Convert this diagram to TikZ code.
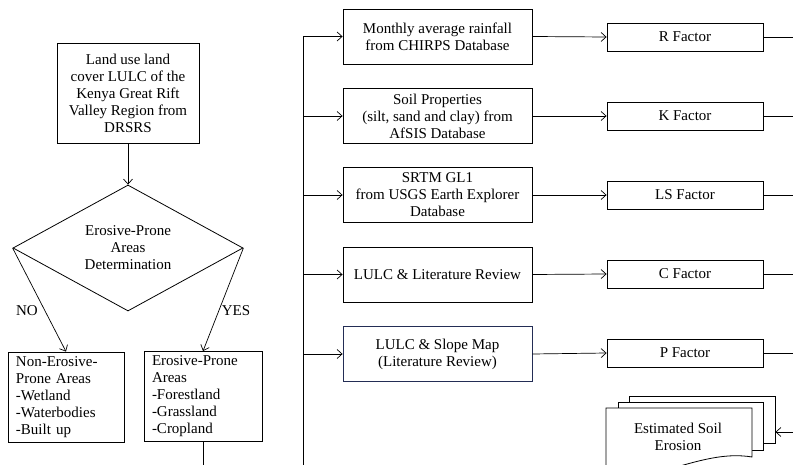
\documentclass[tikz,border=0pt]{standalone}
\usepackage{fontspec}
\setmainfont{Liberation Serif}
\usetikzlibrary{arrows.meta,shapes.geometric}
\definecolor{boxblue}{RGB}{35,45,85}
\begin{document}
\begin{tikzpicture}[x=1pt,y=-1pt,
  font=\fontsize{15}{17}\selectfont,
  box/.style={draw, line width=0.8pt, align=center, inner sep=1pt},
  lbox/.style={draw, line width=0.8pt, align=left, inner xsep=8pt, inner ysep=1pt, minimum height=90pt},
  midbox/.style={box, minimum width=189pt, minimum height=55pt},
  facbox/.style={box, minimum width=156pt, minimum height=28pt},
  page/.style={draw, fill=white, line width=0.8pt, inner sep=0pt},
  arr/.style={-{Straight Barb[length=5pt,width=9pt]}, line width=0.7pt},
  ln/.style={line width=0.7pt}]
\useasboundingbox (0,0) rectangle (793,465);
\clip (0,0) rectangle (793,465);

% left column
\node[box, minimum width=142pt, minimum height=100pt] (lulc) at (128,93)
  {Land use land\\cover LULC of the\\Kenya Great Rift\\Valley Region from\\DRSRS};
\node[draw, diamond, line width=0.8pt, shape aspect=1.83, minimum width=230pt,
  minimum height=126pt, inner sep=0pt, align=center] (dia) at (128,248)
  {Erosive-Prone\\Areas\\Determination};
\node[lbox, text width=100pt] (nonero) at (66,397)
  {Non-Erosive-\\Prone Areas\\-Wetland\\-Waterbodies\\-Built up};
\node[lbox, text width=102pt] (ero) at (203,396.5)
  {Erosive-Prone\\Areas\\-Forestland\\-Grassland\\-Cropland};
\node (no) at (27,311) {NO};
\node (yes) at (236,311) {YES};
\coordinate (eroend) at (203,470);

\draw[arr] (lulc.south) -- (dia.north);
\draw[arr] (dia.west) -- (nonero.north);
\draw[arr] (dia.east) -- (ero.north);
\draw[ln] (ero.south) -- (eroend);

% middle column
\node[midbox] (b1) at (437.5,36.5) {Monthly average rainfall\\from CHIRPS Database};
\node[midbox] (b2) at (437.5,116) {Soil Properties\\(silt, sand and clay) from\\AfSIS Database};
\node[midbox] (b3) at (437.5,195) {SRTM GL1\\from USGS Earth Explorer\\Database};
\node[midbox] (b4) at (437.5,274.5) {LULC \& Literature Review};
\node[midbox, draw=boxblue] (b5) at (437.5,354) {LULC \& Slope Map\\(Literature Review)};

\coordinate (vtop) at (303,37);
\coordinate (vbot) at (303,470);
\draw[ln] (vtop) -- (vbot);
\foreach \b in {b1,b2,b3,b4,b5}
  \draw[arr] (\b.west -| vtop) -- (\b.west);

% factors
\node[facbox] (f1) at (685,37) {R Factor};
\node[facbox] (f2) at (685,116) {K Factor};
\node[facbox] (f3) at (685,195) {LS Factor};
\node[facbox] (f4) at (685,274) {C Factor};
\node[facbox] (f5) at (685,353) {P Factor};
\coordinate (redge) at (800,0);
\foreach \i in {1,...,5}{
  \draw[arr] (b\i.east) -- (f\i.west);
  \draw[ln] (f\i.east) -- (f\i.east -| redge);
}

% estimated soil erosion (multi-document)
\node[page, minimum width=146pt, minimum height=47pt] (p3) at (702,419.5) {};
\node[page, minimum width=145pt, minimum height=48pt] (p2) at (690.5,426) {};
\draw[fill=white, line width=0.8pt] (606,480) -- (606,408) -- (752,408) -- (752,457)
  .. controls (728,453) and (705,459) .. (680,466)
  .. controls (655,473) and (630,478) .. (606,480) -- cycle;
\node[align=center] (est) at (678,437) {Estimated Soil\\Erosion};
\coordinate (ein) at (800,432);
\draw[arr] (ein) -- (ein -| p3.east);
\end{tikzpicture}
\end{document}
